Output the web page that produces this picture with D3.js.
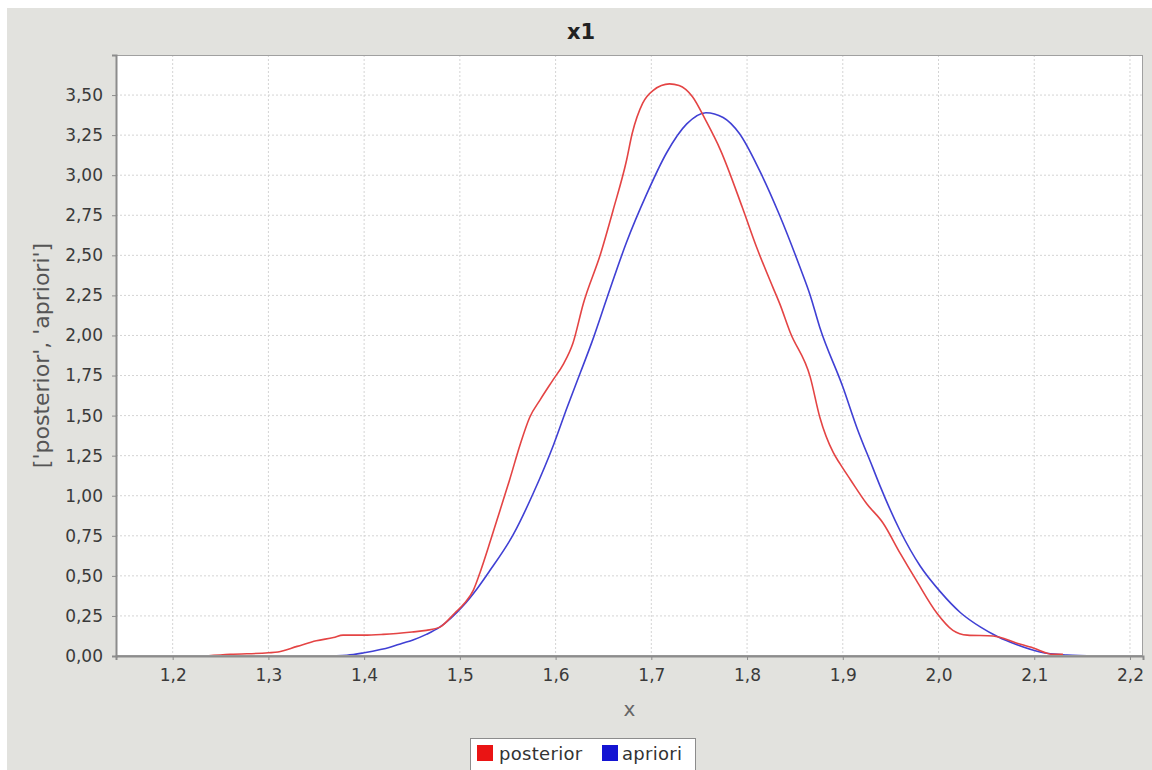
<!DOCTYPE html>
<html><head><meta charset="utf-8">
<script src="https://cdn.jsdelivr.net/npm/d3@7"></script>
<style>
html,body{margin:0;padding:0;background:#fff;}
svg{display:block;font-family:"DejaVu Sans",sans-serif;}
</style></head>
<body>
<svg id="chart" width="1152" height="770"></svg>
<script>
// ---- data ----
const seriesNames = ["posterior", "apriori"];
const posteriorX = [1.235,1.26,1.30,1.31,1.33,1.35,1.368,1.378,1.40,1.42,1.45,1.465,1.479,1.495,1.505,1.514,1.521,1.532,1.542,1.552,1.563,1.573,1.584,1.597,1.608,1.618,1.629,1.647,1.660,1.674,1.680,1.691,1.702,1.719,1.729,1.743,1.757,1.772,1.795,1.810,1.827,1.834,1.845,1.866,1.876,1.890,1.897,1.908,1.925,1.942,1.960,1.977,1.998,2.015,2.030,2.057,2.082,2.099,2.12,2.13];
const posteriorY = [0,0.01,0.02,0.025,0.06,0.095,0.115,0.13,0.13,0.135,0.15,0.16,0.18,0.27,0.33,0.41,0.52,0.72,0.91,1.10,1.32,1.49,1.60,1.72,1.82,1.95,2.20,2.51,2.78,3.09,3.26,3.45,3.53,3.57,3.56,3.49,3.34,3.16,2.80,2.55,2.30,2.20,2.02,1.74,1.49,1.27,1.20,1.10,0.95,0.83,0.64,0.47,0.27,0.16,0.13,0.125,0.08,0.05,0.01,0.01];
const aprioriX = [1.356,1.382,1.40,1.417,1.427,1.44,1.451,1.465,1.479,1.503,1.518,1.531,1.556,1.577,1.598,1.612,1.626,1.638,1.654,1.674,1.695,1.716,1.737,1.757,1.775,1.792,1.813,1.834,1.855,1.866,1.876,1.900,1.915,1.931,1.939,1.960,1.981,2.002,2.023,2.044,2.062,2.082,2.106,2.134,2.165];
const aprioriY = [0,0.005,0.02,0.04,0.055,0.08,0.10,0.135,0.18,0.31,0.42,0.53,0.76,1.02,1.32,1.55,1.77,1.96,2.24,2.58,2.88,3.14,3.32,3.39,3.36,3.26,3.03,2.75,2.43,2.25,2.05,1.68,1.42,1.18,1.06,0.78,0.56,0.40,0.27,0.18,0.12,0.07,0.025,0.006,0];
const xTicks = [1.2,1.3,1.4,1.5,1.6,1.7,1.8,1.9,2.0,2.1,2.2];
const yTicks = [0,0.25,0.5,0.75,1.0,1.25,1.5,1.75,2.0,2.25,2.5,2.75,3.0,3.25,3.5];
const titleText = "x1";
const xLabel = "x";
const yLabel = "['posterior', 'apriori']";

// ---- layout ----
const svg = d3.select("#chart");
const W = 1152, H = 770;
const plot = {l:116, t:55, r:1143, b:656};
const fmt = v => d3.format(".2f")(v).replace(".", ",");
const fmtX = v => d3.format(".1f")(v).replace(".", ",");

svg.append("rect").attr("x",0).attr("y",0).attr("width",W).attr("height",H).attr("fill","#ffffff");
svg.append("rect").attr("x",7).attr("y",8).attr("width",W-7).attr("height",H-8).attr("fill","#e2e2de");

const x = d3.scaleLinear().domain([1.1408, 2.2136]).range([plot.l, plot.r]);
const y = d3.scaleLinear().domain([0, 3.75]).range([plot.b, plot.t]);

svg.append("rect").attr("x",plot.l).attr("y",plot.t).attr("width",plot.r-plot.l).attr("height",plot.b-plot.t).attr("fill","#ffffff");

// gridlines
const grid = svg.append("g");
grid.selectAll("line.v").data(xTicks).join("line")
  .attr("x1",d=>x(d)).attr("x2",d=>x(d)).attr("y1",plot.t).attr("y2",plot.b)
  .attr("stroke","#d4d4d4").attr("stroke-width",1).attr("stroke-dasharray","2,2");
grid.selectAll("line.h").data(yTicks).join("line")
  .attr("x1",plot.l).attr("x2",plot.r).attr("y1",d=>y(d)).attr("y2",d=>y(d))
  .attr("stroke","#d4d4d4").attr("stroke-width",1).attr("stroke-dasharray","2,2");

// series
const line = d3.line().x(d=>x(d[0])).y(d=>y(d[1])).curve(d3.curveMonotoneX);
const post = posteriorX.map((v,i)=>[v,posteriorY[i]]);
const apr = aprioriX.map((v,i)=>[v,aprioriY[i]]);
const colors = {line:["#e44444","#4040d4"], legend:["#ea1414","#1414d2"]};
svg.append("path").datum(apr).attr("d",line).attr("fill","none").attr("stroke",colors.line[1]).attr("stroke-width",1.6);
svg.append("path").datum(post).attr("d",line).attr("fill","none").attr("stroke",colors.line[0]).attr("stroke-width",1.6);

// outline
svg.append("rect").attr("x",plot.l+0.5).attr("y",plot.t+0.5).attr("width",plot.r-plot.l-1).attr("height",plot.b-plot.t-1)
  .attr("fill","none").attr("stroke","#a0a0a0").attr("stroke-width",1);

// axes
const xAxis = d3.axisBottom(x).tickValues(xTicks).tickFormat(fmtX).tickSize(4).tickPadding(9);
const gx = svg.append("g").attr("transform",`translate(0,${plot.b})`).call(xAxis);
gx.select(".domain").attr("stroke","#8c8c8c").attr("stroke-width",2);
gx.selectAll(".tick line").attr("stroke","#8c8c8c");
gx.selectAll("text").attr("font-size",17).attr("fill","#3a3a3a").attr("font-family","DejaVu Sans");

const yAxis = d3.axisLeft(y).tickValues(yTicks).tickFormat(fmt).tickSize(4).tickPadding(9);
const gy = svg.append("g").attr("transform",`translate(${plot.l},0)`).call(yAxis);
gy.select(".domain").attr("stroke","#8c8c8c").attr("stroke-width",2);
gy.selectAll(".tick line").attr("stroke","#8c8c8c");
gy.selectAll("text").attr("font-size",17).attr("fill","#3a3a3a").attr("font-family","DejaVu Sans");

// title and labels
svg.append("text").attr("x",581).attr("y",39).attr("text-anchor","middle")
  .attr("font-size",21).attr("font-weight","bold").attr("fill","#222").text(titleText);
svg.append("text").attr("x",(plot.l+plot.r)/2).attr("y",716).attr("text-anchor","middle")
  .attr("font-size",20).attr("fill","#666").text(xLabel);
svg.append("text").attr("transform",`translate(49,${(plot.t+plot.b)/2}) rotate(-90)`).attr("text-anchor","middle")
  .attr("font-size",22).attr("fill","#555").text(yLabel);

// legend
const lg = svg.append("g");
lg.append("rect").attr("x",470.5).attr("y",738.5).attr("width",225).attr("height",34)
  .attr("fill","#ffffff").attr("stroke","#8c8c8c").attr("stroke-width",1);
const items = [{name:seriesNames[0], sx:477, tx:499, c:colors.legend[0]},{name:seriesNames[1], sx:602, tx:622, c:colors.legend[1]}];
items.forEach(it=>{
  lg.append("rect").attr("x",it.sx).attr("y",745).attr("width",16).attr("height",16).attr("fill",it.c);
  lg.append("text").attr("x",it.tx).attr("y",760).attr("font-size",18).attr("fill","#333")
    .attr("letter-spacing",0.3).text(it.name);
});
</script>
</body></html>
